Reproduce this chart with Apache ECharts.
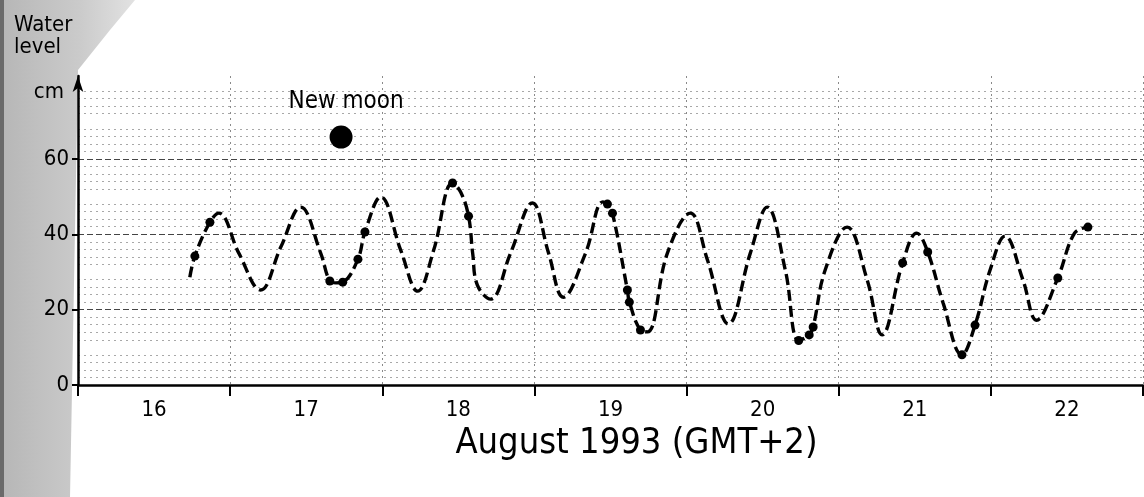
<!DOCTYPE html>
<html>
<head>
<meta charset="utf-8">
<script src="https://cdn.jsdelivr.net/npm/echarts@6/dist/echarts.min.js"></script>
<style>
  html, body { margin: 0; padding: 0; background: #fff; }
  #chart { width: 1144px; height: 497px; }
</style>
</head>
<body>
<div id="chart"></div>
<script>
// ---- data ----
// time in days of August 1993 (GMT+2), water level in cm
const curveTime = [16.735, 16.768, 16.867, 16.926, 17.057, 17.20, 17.333, 17.464, 17.595, 17.655,
  17.695, 17.740, 17.84, 17.886, 17.99, 18.121, 18.233, 18.338, 18.462, 18.515,
  18.567, 18.594, 18.625, 18.711, 18.843, 18.987, 19.093, 19.19, 19.336, 19.45, 19.48, 19.513,
  19.611, 19.624, 19.697, 19.743, 19.874, 20.025, 20.137, 20.275, 20.419, 20.53,
  20.649, 20.737, 20.806, 20.832, 20.911, 21.055, 21.187, 21.285, 21.42, 21.513,
  21.585, 21.686, 21.81, 21.896, 21.995, 22.093, 22.211, 22.30, 22.44, 22.55, 22.638];
const curveLevel = [28.6, 34.2, 43.2, 45.6, 35.0, 25.2, 36.6, 47.2, 35.0, 27.6,
  27.1, 27.3, 33.4, 40.6, 49.9, 35.8, 24.9, 35.8, 53.6, 51.2,
  44.8, 35.0, 26.5, 22.8, 35.0, 48.3, 35.0, 23.3, 35.0, 48.6, 48.0, 45.6,
  25.2, 22.0, 14.6, 14.1, 35.0, 45.6, 33.2, 16.2, 35.0, 47.2,
  30.5, 11.8, 13.3, 15.4, 30.5, 41.9, 27.9, 13.3, 32.4, 40.3,
  35.3, 21.8, 8.0, 15.9, 30.5, 39.5, 27.9, 17.2, 28.4, 40.3, 41.9];
const obsTime = [16.768, 16.867, 17.655, 17.740, 17.84, 17.886, 18.462, 18.567, 19.48, 19.513,
  19.611, 19.624, 19.697, 20.737, 20.806, 20.832, 21.42, 21.585, 21.81, 21.896, 22.44, 22.638];
const obsLevel = [34.2, 43.2, 27.6, 27.3, 33.4, 40.6, 53.6, 44.8, 48.0, 45.6,
  25.2, 22.0, 14.6, 11.8, 13.3, 15.4, 32.4, 35.3, 8.0, 15.9, 28.4, 41.9];
const newMoonTime = [17.729];
const newMoonLevel = [65.8];
const dayLabels = ['16', '17', '18', '19', '20', '21', '22'];
const levelTickLabels = [0, 20, 40, 60];

const FONT = '"DejaVu Sans Condensed", "Liberation Sans Narrow", "DejaVu Sans", sans-serif';

const chart = echarts.init(document.getElementById('chart'), null, { renderer: 'canvas' });

const option = {
  backgroundColor: '#ffffff',
  animation: false,
  title: {
    text: 'Water\nlevel',
    left: 9,
    top: 9,
    textStyle: { fontFamily: FONT, fontSize: 22, lineHeight: 22, fontWeight: 'normal', color: '#000' }
  },
  graphic: [
    {
      type: 'polygon',
      z: -10,
      silent: true,
      shape: { points: [[0, 0], [135, 0], [110, 30], [78, 70], [70, 497], [0, 497]] },
      style: {
        fill: new echarts.graphic.LinearGradient(0, 0, 1, 0, [
          { offset: 0, color: '#b6b6b6' },
          { offset: 0.6, color: '#cbcbcb' },
          { offset: 1, color: '#e2e2e2' }
        ])
      }
    },
    {
      type: 'rect',
      z: -9,
      silent: true,
      shape: { x: 0, y: 0, width: 4, height: 497 },
      style: { fill: '#6a6a6a' }
    }
  ],
  grid: { left: 78, right: 1, top: 76, bottom: 112, containLabel: false },
  xAxis: [
    {
      type: 'value',
      min: 16,
      max: 23,
      interval: 1,
      axisLine: { show: true, lineStyle: { color: '#000', width: 2.5 } },
      axisTick: { show: true, length: 11, lineStyle: { color: '#000', width: 2 } },
      axisLabel: { show: false },
      splitLine: { show: true, lineStyle: { color: '#8a8a8a', width: 1, type: [2, 4] } }
    },
    {
      type: 'category',
      data: dayLabels,
      position: 'bottom',
      boundaryGap: true,
      axisLine: { show: false },
      axisTick: { show: false },
      splitLine: { show: false },
      axisLabel: { fontFamily: FONT, fontSize: 22, color: '#000', margin: 14 },
      name: 'August 1993 (GMT+2)',
      nameLocation: 'middle',
      nameGap: 41,
      nameTextStyle: { fontFamily: FONT, fontSize: 36, color: '#000', padding: [0, 0, 0, 52] }
    }
  ],
  yAxis: {
    type: 'value',
    min: 0,
    max: 82,
    interval: 10,
    name: 'cm',
    nameLocation: 'end',
    nameGap: -16,
    nameTextStyle: { fontFamily: FONT, fontSize: 22, color: '#000', align: 'right', verticalAlign: 'middle', padding: [0, 14, 0, 0] },
    axisLine: { show: true, symbol: ['none', 'arrow'], symbolSize: [8, 16], lineStyle: { color: '#000', width: 2.5 } },
    axisTick: { show: true, length: 6, customValues: levelTickLabels, lineStyle: { color: '#000', width: 2 } },
    axisLabel: { customValues: levelTickLabels, fontFamily: FONT, fontSize: 22, color: '#000', margin: 9 },
    splitLine: { show: true, lineStyle: { color: '#444', width: 1.2, type: [6, 3] } },
    minorTick: { show: false, splitNumber: 5 },
    minorSplitLine: { show: true, lineStyle: { color: '#a8a8a8', width: 1, type: [2, 4] } }
  },
  series: [
    {
      name: 'Water level',
      type: 'line',
      xAxisIndex: 0,
      data: curveTime.map((t, i) => [t, curveLevel[i]]),
      smooth: 0.4,
      showSymbol: false,
      lineStyle: { color: '#000', width: 3.4, type: [11, 5] },
      z: 3
    },
    {
      name: 'Observed',
      type: 'scatter',
      xAxisIndex: 0,
      data: obsTime.map((t, i) => [t, obsLevel[i]]),
      symbol: 'circle',
      symbolSize: 9,
      itemStyle: { color: '#000', opacity: 1 },
      z: 4
    },
    {
      name: 'New moon',
      type: 'scatter',
      xAxisIndex: 0,
      data: newMoonTime.map((t, i) => [t, newMoonLevel[i]]),
      symbol: 'circle',
      symbolSize: 23,
      itemStyle: { color: '#000', opacity: 1 },
      label: {
        show: true,
        position: 'top',
        distance: 12,
        offset: [5, 0],
        formatter: 'New moon',
        fontFamily: FONT,
        fontSize: 24,
        color: '#000'
      },
      z: 4
    }
  ]
};

chart.setOption(option);
</script>
</body>
</html>
